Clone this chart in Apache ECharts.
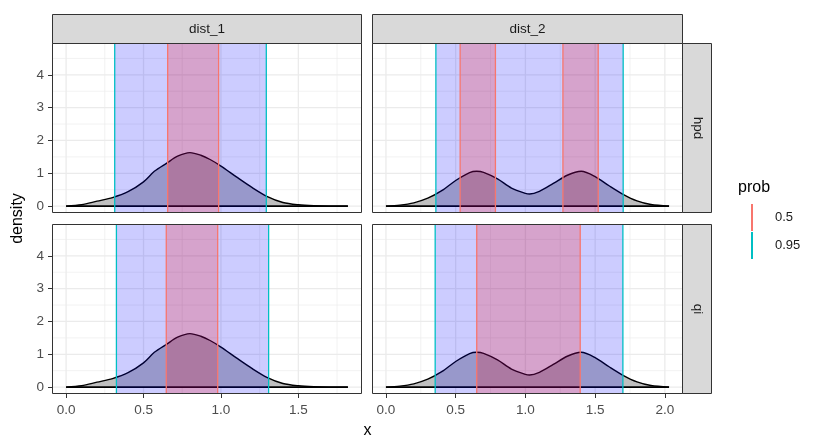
<!DOCTYPE html>
<html>
<head>
<meta charset="utf-8">
<script src="https://cdn.jsdelivr.net/npm/echarts@6/dist/echarts.min.js"></script>
<style>
html,body{margin:0;padding:0;background:#fff;}
#chart{width:814px;height:446px;}
</style>
</head>
<body>
<div id="chart"></div>
<script>
// ---------- data ----------
const colNames = ['dist_1', 'dist_2'];
const rowNames = ['hpd', 'qi'];
const probLevels = ['0.5', '0.95'];

const xTicks1 = [0, 0.5, 1.0, 1.5];
const xMinor1 = [0.25, 0.75, 1.25, 1.75];
const xTicks2 = [0, 0.5, 1.0, 1.5, 2.0];
const xMinor2 = [0.25, 0.75, 1.25, 1.75];
const yTicks = [0, 1, 2, 3, 4];
const yMinor = [0.5, 1.5, 2.5, 3.5, 4.5];

const dist1X = [0, 0.1, 0.2, 0.3, 0.4, 0.5, 0.57, 0.65, 0.72, 0.8, 0.87, 0.93, 1.0, 1.1, 1.2, 1.3, 1.4, 1.5, 1.6, 1.7, 1.82];
const dist1Y = [0, 0.04, 0.15, 0.26, 0.44, 0.74, 1.06, 1.31, 1.52, 1.63, 1.55, 1.42, 1.22, 0.89, 0.57, 0.29, 0.11, 0.04, 0.01, 0.0, 0];

const dist2X = [0, 0.1, 0.2, 0.3, 0.4, 0.5, 0.6, 0.65, 0.7, 0.8, 0.9, 1.0, 1.03, 1.1, 1.2, 1.3, 1.4, 1.5, 1.6, 1.7, 1.8, 1.9, 2.03];
const dist2Y = [0, 0.03, 0.1, 0.24, 0.47, 0.78, 1.02, 1.06, 1.03, 0.83, 0.55, 0.39, 0.37, 0.45, 0.69, 0.94, 1.06, 0.9, 0.62, 0.36, 0.16, 0.05, 0];

const hpd1_95 = [[0.314, 1.293]];
const hpd1_50 = [[0.656, 0.985]];
const qi1_95 = [[0.325, 1.308]];
const qi1_50 = [[0.647, 0.979]];
const hpd2_95 = [[0.358, 1.701]];
const hpd2_50 = [[0.532, 0.785], [1.269, 1.522]];
const qi2_95 = [[0.353, 1.699]];
const qi2_50 = [[0.651, 1.393]];

// ---------- layout ----------
const FONT = "'Liberation Sans', Arial, sans-serif";
const YMIN = -0.21, YMAX = 4.97;
const X1 = [-0.091, 1.911], X2 = [-0.1, 2.13];
const PW1 = 310, PW2 = 311, PH = 170;
const L1 = 52, L2 = 372, T1 = 43, T2 = 224;
const STRIP = 29;

const panels = [
  {row: 0, col: 0, left: L1, top: T1, w: PW1, xr: X1, xs: dist1X, ys: dist1Y, ci95: hpd1_95, ci50: hpd1_50, ticks: xTicks1, minor: xMinor1},
  {row: 0, col: 1, left: L2, top: T1, w: PW2, xr: X2, xs: dist2X, ys: dist2Y, ci95: hpd2_95, ci50: hpd2_50, ticks: xTicks2, minor: xMinor2},
  {row: 1, col: 0, left: L1, top: T2, w: PW1, xr: X1, xs: dist1X, ys: dist1Y, ci95: qi1_95, ci50: qi1_50, ticks: xTicks1, minor: xMinor1},
  {row: 1, col: 1, left: L2, top: T2, w: PW2, xr: X2, xs: dist2X, ys: dist2Y, ci95: qi2_95, ci50: qi2_50, ticks: xTicks2, minor: xMinor2}
];

const COL50 = '#F8766D', COL95 = '#00BFC4';

const grid = [], xAxis = [], yAxis = [], series = [], graphic = [];

panels.forEach((p, i) => {
  const bottom = p.row === 1, leftSide = p.col === 0;
  grid.push({left: p.left, top: p.top, width: p.w, height: PH, containLabel: false, show: true, backgroundColor: '#fff', borderWidth: 0});
  xAxis.push({
    gridIndex: i, type: 'value', min: p.xr[0], max: p.xr[1], position: 'bottom',
    axisLine: {show: false, onZero: false}, splitLine: {show: false},
    axisTick: {show: bottom, customValues: p.ticks, length: 4, lineStyle: {color: '#333', width: 1}},
    axisLabel: {show: bottom, customValues: p.ticks, formatter: v => v.toFixed(1), color: '#4D4D4D', fontSize: 13.5, fontFamily: FONT, margin: 9}
  });
  yAxis.push({
    gridIndex: i, type: 'value', min: YMIN, max: YMAX, position: 'left',
    axisLine: {show: false, onZero: false}, splitLine: {show: false},
    axisTick: {show: leftSide, customValues: yTicks, length: 4, lineStyle: {color: '#333', width: 1}},
    axisLabel: {show: leftSide, customValues: yTicks, formatter: v => String(v), color: '#4D4D4D', fontSize: 13.5, fontFamily: FONT, margin: 8}
  });

  // gridlines (0 = vertical, 1 = horizontal ; 1 = major, 0 = minor)
  const gl = [];
  p.minor.forEach(v => gl.push([0, v, 0]));
  yMinor.forEach(v => gl.push([1, v, 0]));
  p.ticks.forEach(v => gl.push([0, v, 1]));
  yTicks.forEach(v => gl.push([1, v, 1]));
  series.push({
    type: 'custom', xAxisIndex: i, yAxisIndex: i, z: 1, silent: true,
    data: gl, encode: {x: 1, y: 1},
    renderItem: (params, api) => {
      const o = api.value(0), v = api.value(1), major = api.value(2);
      let a, b;
      if (o === 0) { a = api.coord([v, YMIN]); b = api.coord([v, YMAX]); }
      else { a = api.coord([p.xr[0], v]); b = api.coord([p.xr[1], v]); }
      return {type: 'line', shape: {x1: a[0], y1: a[1], x2: b[0], y2: b[1]},
        style: {stroke: '#EBEBEB', lineWidth: major ? 1.3 : 0.65}};
    }
  });

  // density
  series.push({
    type: 'line', xAxisIndex: i, yAxisIndex: i, z: 2, silent: true,
    data: p.xs.map((x, k) => [x, p.ys[k]]),
    smooth: 0.3, symbol: 'none',
    lineStyle: {color: '#000', width: 1.4},
    areaStyle: {color: '#BFBFBF', opacity: 1, origin: 0}
  });
  series.push({
    type: 'line', xAxisIndex: i, yAxisIndex: i, z: 2, silent: true,
    data: [[p.xs[0], 0], [p.xs[p.xs.length - 1], 0]],
    symbol: 'none', lineStyle: {color: '#000', width: 1.6}
  });

  // interval rectangles
  const rects = p.ci95.map(r => [r[0], r[1], 0]).concat(p.ci50.map(r => [r[0], r[1], 1]));
  series.push({
    type: 'custom', xAxisIndex: i, yAxisIndex: i, z: 3, silent: true,
    data: rects, encode: {x: [0, 1]},
    renderItem: (params, api) => {
      const a = api.coord([api.value(0), YMAX]);
      const b = api.coord([api.value(1), YMIN]);
      return {type: 'rect', shape: {x: a[0], y: a[1], width: b[0] - a[0], height: b[1] - a[1]},
        style: {fill: api.value(2) === 1 ? 'rgba(255,0,0,0.2)' : 'rgba(0,0,255,0.2)'}};
    }
  });

  // vertical interval lines
  const vlines = (name, color, arr) => ({
    name: name, type: 'custom', xAxisIndex: i, yAxisIndex: i, z: 4, silent: true,
    itemStyle: {color: color},
    data: arr.flat(), encode: {x: 0},
    renderItem: (params, api) => {
      const a = api.coord([api.value(0), YMIN]);
      const b = api.coord([api.value(0), YMAX]);
      return {type: 'line', shape: {x1: a[0], y1: a[1], x2: b[0], y2: b[1]},
        style: {stroke: color, lineWidth: 1.3}};
    }
  });
  series.push(vlines('0.95', COL95, p.ci95));
  series.push(vlines('0.5', COL50, p.ci50));

  // panel border
  graphic.push({type: 'rect', z: 100, silent: true,
    shape: {x: p.left + 0.5, y: p.top + 0.5, width: p.w - 1, height: PH - 1},
    style: {fill: null, stroke: '#333', lineWidth: 1}});
});

// top strips
[[L1, PW1, colNames[0]], [L2, PW2, colNames[1]]].forEach(s => {
  graphic.push({type: 'rect', z: 100, silent: true,
    shape: {x: s[0] + 0.5, y: T1 - STRIP + 0.5, width: s[1] - 1, height: STRIP},
    style: {fill: '#D9D9D9', stroke: '#333', lineWidth: 1}});
  graphic.push({type: 'text', z: 101, silent: true, x: s[0] + s[1] / 2, y: T1 - STRIP / 2 + 1,
    style: {text: s[2], fill: '#1A1A1A', font: '13.5px ' + FONT, align: 'center', verticalAlign: 'middle'}});
});
// right strips
[[T1, rowNames[0]], [T2, rowNames[1]]].forEach(s => {
  const x0 = L2 + PW2;
  graphic.push({type: 'rect', z: 100, silent: true,
    shape: {x: x0 - 0.5, y: s[0] + 0.5, width: STRIP, height: PH - 1},
    style: {fill: '#D9D9D9', stroke: '#333', lineWidth: 1}});
  graphic.push({type: 'text', z: 101, silent: true, x: x0 + STRIP / 2, y: s[0] + PH / 2, rotation: -Math.PI / 2,
    style: {text: s[1], fill: '#1A1A1A', font: '13.5px ' + FONT, align: 'center', verticalAlign: 'middle'}});
});
// axis titles
graphic.push({type: 'text', silent: true, x: 18, y: (T1 + T2 + PH) / 2, rotation: Math.PI / 2,
  style: {text: 'density', fill: '#000', font: '16px ' + FONT, align: 'center', verticalAlign: 'middle'}});
graphic.push({type: 'text', silent: true, x: (L1 + L2 + PW2) / 2, y: 431,
  style: {text: 'x', fill: '#000', font: '16px ' + FONT, align: 'center', verticalAlign: 'middle'}});
// legend title
graphic.push({type: 'text', silent: true, x: 738, y: 188,
  style: {text: 'prob', fill: '#000', font: '16px ' + FONT, align: 'left', verticalAlign: 'middle'}});

const chart = echarts.init(document.getElementById('chart'), null, {renderer: 'canvas'});
chart.setOption({
  animation: false,
  backgroundColor: '#fff',
  grid: grid, xAxis: xAxis, yAxis: yAxis, series: series, graphic: graphic,
  legend: {
    data: probLevels, orient: 'vertical', left: 751, top: 204, padding: 0,
    itemGap: 1, itemWidth: 2, itemHeight: 27, icon: 'rect', selectedMode: false,
    textStyle: {color: '#1A1A1A', fontSize: 13, fontFamily: FONT, padding: [0, 0, 0, 17]}
  }
});
</script>
</body>
</html>
